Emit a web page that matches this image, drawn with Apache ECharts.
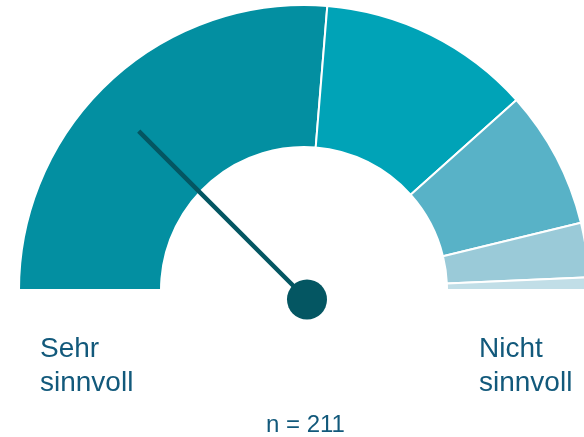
<!DOCTYPE html>
<html>
<head>
<meta charset="utf-8">
<script src="https://cdn.jsdelivr.net/npm/echarts@6/dist/echarts.min.js"></script>
<style>html,body{margin:0;padding:0;background:#fff}#c{width:584px;height:437px}</style>
</head>
<body>
<div id="c"></div>
<script>
// Data
const categories = ['Sehr sinnvoll', 'Eher sinnvoll', 'Teils/teils', 'Eher nicht sinnvoll', 'Nicht sinnvoll'];
const counts = [111, 51, 33, 13, 3];
const colors = ['#038FA1', '#00A3B7', '#58B2C7', '#9ACAD8', '#C1DEE7'];
const needleValue = 2.0; // on scale 1 (Sehr sinnvoll) .. 5 (Nicht sinnvoll)
const scaleMin = 1, scaleMax = 5;
const leftLabel = 'Sehr\nsinnvoll';
const rightLabel = 'Nicht\nsinnvoll';
const nTotal = 211;

const total = counts.reduce((a, b) => a + b, 0);
const pieData = categories.map((c, i) => ({
  name: c, value: counts[i],
  itemStyle: { color: colors[i], borderColor: '#ffffff', borderWidth: 2 }
}));
pieData.push({ name: 'filler', value: total, itemStyle: { color: 'rgba(0,0,0,0)', borderWidth: 0 } });

const chart = echarts.init(document.getElementById('c'), null, { renderer: 'canvas' });
const textColor = '#12597B';
chart.setOption({
  animation: false,
  series: [
    {
      type: 'pie',
      silent: true,
      z: 1,
      center: [304, 290],
      radius: [143, 285],
      startAngle: 180,
      clockwise: true,
      label: { show: false },
      labelLine: { show: false },
      emphasis: { disabled: true },
      data: pieData
    },
    {
      type: 'gauge',
      silent: true,
      z: 10,
      center: [307, 299.5],
      radius: 238,
      startAngle: 180,
      endAngle: 0,
      min: scaleMin,
      max: scaleMax,
      axisLine: { show: false },
      axisTick: { show: false },
      splitLine: { show: false },
      axisLabel: { show: false },
      pointer: { show: true, icon: 'rect', width: 4.5, length: 238, offsetCenter: [0, 0], itemStyle: { color: '#045662' } },
      anchor: { show: true, size: 40, showAbove: true, itemStyle: { color: '#045662' } },
      title: { show: false },
      detail: { show: false },
      data: [{ value: needleValue }]
    }
  ],
  graphic: [
    { type: 'text', left: 40, top: 332, style: { text: leftLabel, font: '28px "Liberation Sans", Arial, sans-serif', fill: textColor, lineHeight: 34 } },
    { type: 'text', left: 479, top: 332, style: { text: rightLabel, font: '28px "Liberation Sans", Arial, sans-serif', fill: textColor, lineHeight: 34 } },
    { type: 'text', left: 266, top: 413, style: { text: 'n = ' + nTotal, font: '24px "Liberation Sans", Arial, sans-serif', fill: textColor } }
  ]
});
</script>
</body>
</html>
